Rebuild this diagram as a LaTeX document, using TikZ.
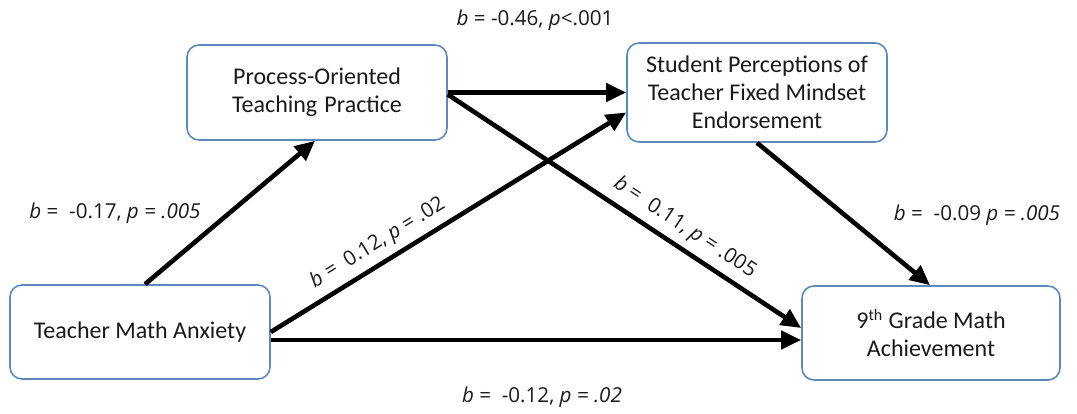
\documentclass[tikz,border=0pt]{standalone}
\usepackage{fontspec}
\setmainfont{Carlito}
\newfontfamily\labfont{Open Sans}
\usetikzlibrary{arrows.meta,calc}
\definecolor{boxblue}{HTML}{5B8AC0}
\definecolor{txtgray}{HTML}{1A1A1A}
\tikzset{
  varbox/.style={draw=boxblue, line width=0.8pt, rounded corners=6pt, fill=white,
    align=center, text=txtgray, font=\fontsize{12}{14}\selectfont, inner sep=0pt},
  patharrow/.style={line width=2.3pt, -{Triangle[length=10pt,width=9pt]}},
  coef/.style={font=\labfont\fontsize{10.3}{12}\selectfont, text=txtgray, inner sep=1pt}
}
\begin{document}
\begin{tikzpicture}[x=0.5pt,y=-0.5pt]
\useasboundingbox (0,0) rectangle (1077,413);
\node[varbox, minimum width=130pt, minimum height=47pt] (A) at (140,332) {Teacher Math Anxiety};
\node[varbox, minimum width=130pt, minimum height=47.5pt] (P) at (317,92.5) {Process-Oriented\\Teaching\hspace{0.3em}Practice};
\node[varbox, minimum width=130pt, minimum height=49.5pt] (S) at (757,92.5) {Student Perceptions of\\Teacher Fixed Mindset\\Endorsement};
\node[varbox, minimum width=129pt, minimum height=47pt] (G) at (931,333) {9\textsuperscript{th} Grade Math\\Achievement};

\draw[patharrow] ($(A.north)+(5,0)$) -- ($(P.south)+(-2,0)$);
\draw[patharrow] (P.east) -- (S.west);
\draw[patharrow] ($(P.east)+(0,2)$) -- node[coef, sloped, above=2.5pt, pos=0.64] {\textit{b} = \ 0.11, \textit{p} = .005} ($(G.west)+(0,-5)$);
\draw[patharrow] (A.east) -- node[coef, sloped, above=2.5pt, pos=0.33] {\textit{b} = \ 0.12, \textit{p} = .02} ($(S.west)+(0,20)$);
\draw[patharrow] ($(A.east)+(0,8)$) -- ($(G.west)+(0,7)$);
\draw[patharrow] (S.south) -- ($(G.north)+(-1,0)$);

\node[coef] (l1) at (535,20) {\textit{b} = -0.46, \textit{p}<.001};
\node[coef] (l2) at (115,213) {\textit{b} = \ -0.17, \textit{p = .005}};
\node[coef] (l3) at (977,215) {\textit{b} = \ -0.09 \textit{p = .005}};
\node[coef] (l4) at (542,397) {\textit{b} = \ -0.12, \textit{p = .02}};
\end{tikzpicture}
\end{document}
